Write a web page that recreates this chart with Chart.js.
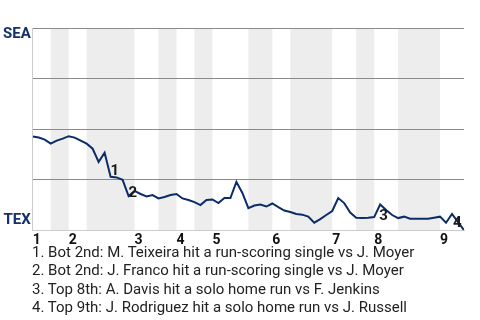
<!DOCTYPE html>
<html>
<head>
<meta charset="utf-8">
<script src="https://cdn.jsdelivr.net/npm/chart.js@4"></script>
<style>
  html, body { margin: 0; padding: 0; background: #fff; }
  #wrap { position: relative; width: 480px; height: 251px; }
  #notes {
    position: absolute; left: 32px; top: 243px;
    font: 15px Roboto, sans-serif; line-height: 18.3px; color: #222;
  }
</style>
</head>
<body>
<div id="wrap"><canvas id="wpChart"></canvas></div>
<div id="notes"></div>
<script>
// Seattle win probability after each plate appearance (0 = TEX wins, 1 = SEA wins)
const winProb = [
  0.463, 0.458, 0.448, 0.428, 0.443, 0.453, 0.465, 0.458, 0.443, 0.428,
  0.403, 0.338, 0.383, 0.264, 0.261, 0.249, 0.169, 0.194, 0.179, 0.167,
  0.174, 0.157, 0.164, 0.174, 0.179, 0.157, 0.149, 0.139, 0.124, 0.149,
  0.152, 0.134, 0.159, 0.159, 0.239, 0.184, 0.109, 0.122, 0.127, 0.117,
  0.132, 0.114, 0.097, 0.090, 0.080, 0.077, 0.067, 0.037, 0.055, 0.075,
  0.095, 0.159, 0.134, 0.087, 0.062, 0.060, 0.062, 0.065, 0.127, 0.100,
  0.075, 0.060, 0.067, 0.057, 0.057, 0.057, 0.057, 0.062, 0.067, 0.037,
  0.080, 0.040, 0.000
];

// plate appearance index where each inning starts
const inningStarts = [0, 6, 17, 24, 30, 40, 50, 57, 68];
const inningLabels = ['1', '2', '3', '4', '5', '6', '7', '8', '9'];

// bottom half-innings (Texas batting), shaded
const bottomHalves = [[3, 6], [9, 17], [21, 24], [27, 30], [36, 40], [43, 50], [54, 57], [61, 68]];
const totalPA = 72;

// key events: plate appearance index and description
const eventIdx = [13, 16, 58, 70];
const eventText = [
  'Bot 2nd: M. Teixeira hit a run-scoring single vs J. Moyer',
  'Bot 2nd: J. Franco hit a run-scoring single vs J. Moyer',
  'Top 8th: A. Davis hit a solo home run vs F. Jenkins',
  'Top 9th: J. Rodriguez hit a solo home run vs J. Russell'
];

const NAVY = '#13306b';

document.getElementById('notes').innerHTML =
  eventText.map((t, i) => `<div>${i + 1}. ${t}</div>`).join('');

const bandsPlugin = {
  id: 'bands',
  beforeDraw(chart) {
    const { ctx, chartArea, scales } = chart;
    ctx.save();
    ctx.fillStyle = '#ededed';
    bottomHalves.forEach(([a, b]) => {
      const x0 = scales.x.getPixelForValue(a);
      const x1 = scales.x.getPixelForValue(b);
      ctx.fillRect(x0, chartArea.top, x1 - x0, chartArea.bottom - chartArea.top);
    });
    ctx.restore();
  }
};

const eventLabelsPlugin = {
  id: 'eventLabels',
  afterDatasetsDraw(chart, args, opts) {
    const { ctx, scales } = chart;
    ctx.save();
    ctx.font = 'bold 15px Roboto, sans-serif';
    ctx.fillStyle = '#1a1a1a';
    ctx.textAlign = 'left';
    ctx.textBaseline = 'middle';
    eventIdx.forEach((idx, i) => {
      const x = scales.x.getPixelForValue(idx);
      const y = scales.y.getPixelForValue(winProb[idx]);
      ctx.fillText(String(i + 1), x + opts.dx[i], y + opts.dy[i]);
    });
    ctx.restore();
  }
};

new Chart(document.getElementById('wpChart'), {
  type: 'line',
  data: {
    datasets: [{
      data: winProb.map((v, i) => ({ x: i, y: v })),
      borderColor: '#0b2c68',
      borderWidth: 2,
      pointRadius: 0,
      tension: 0,
      fill: false
    }]
  },
  options: {
    responsive: true,
    maintainAspectRatio: false,
    animation: false,
    events: [],
    layout: { padding: { left: 1, right: 16, top: 28, bottom: 0 } },
    plugins: {
      legend: { display: false },
      tooltip: { enabled: false },
      eventLabels: { dx: [0, 0, -1, 1], dy: [-6, -3, 12, 9] }
    },
    scales: {
      x: {
        type: 'linear',
        min: 0,
        max: totalPA,
        afterBuildTicks: (scale) => {
          scale.ticks = inningStarts.map(v => ({ value: v }));
        },
        grid: { display: false, drawTicks: false },
        border: { display: true, color: '#cccccc', width: 1 },
        ticks: {
          autoSkip: false,
          maxRotation: 0,
          align: 'start',
          padding: 2,
          color: '#111',
          font: { family: 'Roboto', size: 14, weight: 'bold' },
          callback: (value) => {
            const k = inningStarts.indexOf(value);
            return k >= 0 ? inningLabels[k] : '';
          }
        }
      },
      y: {
        min: 0,
        max: 1,
        grid: {
          drawTicks: false,
          color: (c) => (c.tick && c.tick.value === 0 ? '#cccccc' : '#8a8a8a'),
          lineWidth: 1
        },
        border: { display: true, color: '#cccccc', width: 1 },
        ticks: {
          stepSize: 0.25,
          padding: 2,
          labelOffset: -2,
          color: NAVY,
          font: { family: 'Roboto', size: 15, weight: 'bold', lineHeight: '16px' },
          callback: (value) => {
            if (value === 1) return ['', 'SEA'];
            if (value === 0) return ['TEX', ''];
            return '';
          }
        }
      }
    }
  },
  plugins: [bandsPlugin, eventLabelsPlugin]
});
</script>
</body>
</html>
